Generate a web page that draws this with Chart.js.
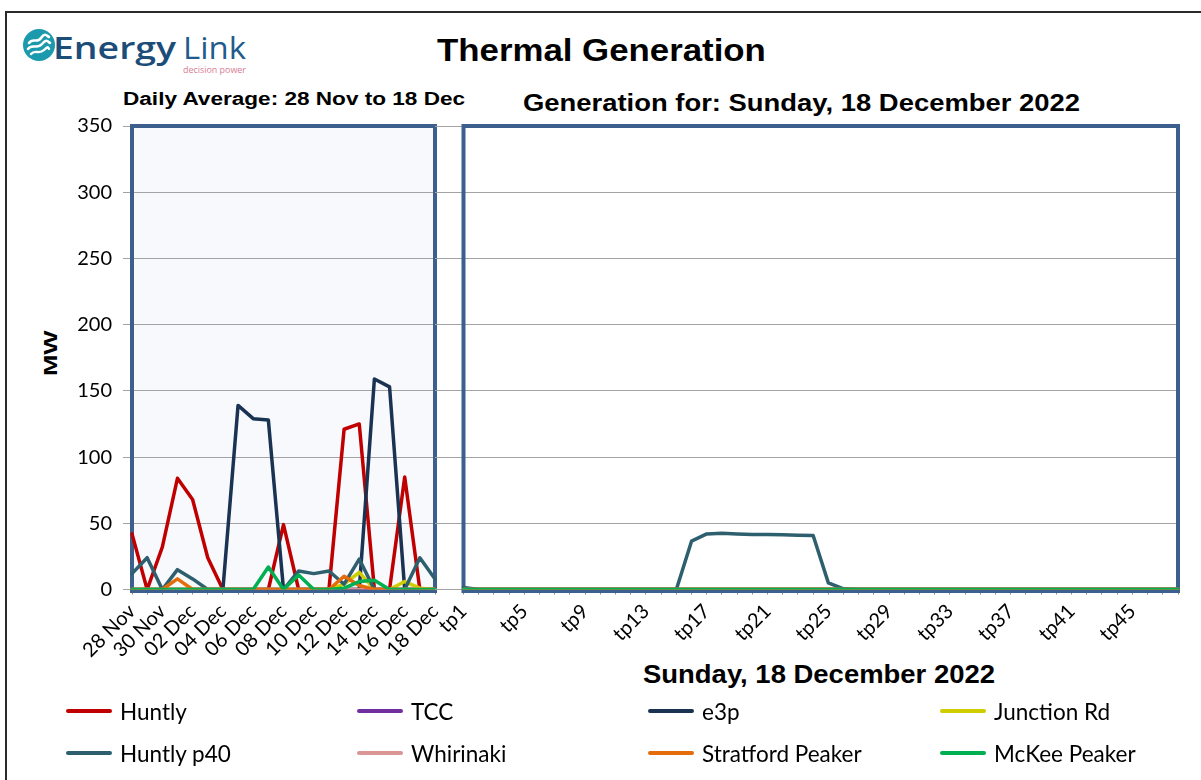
<!DOCTYPE html>
<html>
<head>
<meta charset="utf-8">
<script src="https://cdn.jsdelivr.net/npm/chart.js@4.4.1/dist/chart.umd.min.js"></script>
<style>
  body { margin: 0; width: 1201px; height: 780px; overflow: hidden; background: #fff; position: relative; }
  canvas { position: absolute; left: 0; top: 0; }
  .frame { position: absolute; left: 5px; top: 11px; width: 1300px; height: 900px; border: 2px solid #2a2a2a; }
  .txt { position: absolute; white-space: nowrap; font-family: "Liberation Sans", Arial, sans-serif; font-weight: bold; color: #000; transform-origin: 0 0; }
  .legend-item { position: absolute; display: flex; align-items: center; height: 26px; font-family: Lato, "Open Sans", sans-serif; font-size: 22.5px; color: #000; }
  .legend-item span.swatch { display: inline-block; width: 46px; height: 4px; border-radius: 2px; margin-right: 8px; }
  .logo { position: absolute; left: 22px; top: 26px; }
</style>
</head>
<body>
<div class="frame"></div>

<div class="logo">
  <svg width="34" height="34" viewBox="0 0 34 34" style="position:absolute;left:0;top:2px">
    <circle cx="17" cy="17" r="16" fill="#1c9aad"/>
    <path d="M7 15 C11 9, 15 16, 19 10 S 25 8, 27 9" stroke="#fff" stroke-width="2.6" fill="none" stroke-linecap="round"/>
    <path d="M6 21 C10 15, 15 22, 20 16 S 26 14, 28 15" stroke="#fff" stroke-width="2.6" fill="none" stroke-linecap="round"/>
    <path d="M9 26 C13 21, 17 27, 22 22 S 26 20, 27 21" stroke="#fff" stroke-width="2.4" fill="none" stroke-linecap="round"/>
  </svg>
  <div class="txt" data-w="123" style="left:31px;top:0px;font-family:'Open Sans',sans-serif;font-weight:600;font-size:31px;color:#1c4d78">Energy</div>
  <div class="txt" data-w="63" style="left:161px;top:0px;font-family:'Open Sans',sans-serif;font-weight:400;font-size:31px;color:#1f5b8c">Link</div>
  <div class="txt" data-w="63" style="left:161px;top:37px;font-family:'Open Sans',sans-serif;font-weight:400;font-size:9px;color:#d87c93">decision power</div>
</div>

<div class="txt" data-w="329" style="left:437px;top:33px;font-size:31px">Thermal Generation</div>
<div class="txt" data-w="342" style="left:123px;top:89px;font-size:18px">Daily Average: 28 Nov to 18 Dec</div>
<div class="txt" data-w="557" style="left:523px;top:89px;font-size:24px">Generation for: Sunday, 18 December 2022</div>
<div class="txt" data-w="352" style="left:643px;top:660px;font-size:25px">Sunday, 18 December 2022</div>
<div class="txt" style="left:40px;top:376px;font-size:19px;transform:rotate(-90deg) scaleX(1.35)">MW</div>

<canvas id="dailyChart" width="1201" height="780"></canvas>
<canvas id="tpChart" width="1201" height="780"></canvas>
<div id="legend"></div>

<script>
const dayLabels = ['28 Nov', '29 Nov', '30 Nov', '01 Dec', '02 Dec', '03 Dec', '04 Dec', '05 Dec', '06 Dec', '07 Dec', '08 Dec',
    '09 Dec', '10 Dec', '11 Dec', '12 Dec', '13 Dec', '14 Dec', '15 Dec', '16 Dec', '17 Dec', '18 Dec'];

const tpLabels = ['tp1', 'tp2', 'tp3', 'tp4', 'tp5', 'tp6', 'tp7', 'tp8', 'tp9', 'tp10', 'tp11', 'tp12',
    'tp13', 'tp14', 'tp15', 'tp16', 'tp17', 'tp18', 'tp19', 'tp20', 'tp21', 'tp22', 'tp23', 'tp24',
    'tp25', 'tp26', 'tp27', 'tp28', 'tp29', 'tp30', 'tp31', 'tp32', 'tp33', 'tp34', 'tp35', 'tp36',
    'tp37', 'tp38', 'tp39', 'tp40', 'tp41', 'tp42', 'tp43', 'tp44', 'tp45', 'tp46', 'tp47', 'tp48'];

const yTicks = [0, 50, 100, 150, 200, 250, 300, 350];

const seriesNames = ['Huntly', 'TCC', 'e3p', 'Junction Rd', 'Huntly p40', 'Whirinaki', 'Stratford Peaker', 'McKee Peaker'];
const seriesColors = ['#c00000', '#7030a0', '#1b3352', '#cfcc00', '#2e5f6e', '#d99694', '#e46c0a', '#00b050'];

// daily averages, 28 Nov .. 18 Dec
const dailyHuntly     = [42, 0, 32, 84, 68, 24, 0, 0, 0, 0, 49, 0, 0, 0, 121, 125, 0, 0, 85, 0, 0];
const dailyTCC        = [0, 0, 0, 0, 0, 0, 0, 0, 0, 0, 0, 0, 0, 0, 0, 0, 0, 0, 0, 0, 0];
const dailyE3p        = [0, 0, 0, 0, 0, 0, 0, 139, 129, 128, 0, 0, 0, 0, 0, 0, 159, 153, 0, 0, 0];
const dailyJunctionRd = [0, 0, 0, 0, 0, 0, 0, 0, 0, 0, 0, 0, 0, 0, 4, 13, 0, 0, 6, 1, 0];
const dailyHuntlyP40  = [12, 24, 0, 15, 8, 0, 0, 0, 0, 0, 0, 14, 12, 14, 4, 23, 0, 0, 0, 24, 8];
const dailyWhirinaki  = [0, 0, 0, 0, 0, 0, 0, 0, 0, 0, 0, 0, 0, 0, 0, 0, 0, 0, 0, 0, 0];
const dailyStratford  = [0, 0, 0, 8, 0, 0, 0, 0, 0, 0, 0, 0, 0, 0, 10, 3, 0, 0, 0, 0, 0];
const dailyMcKee      = [0, 0, 0, 0, 0, 0, 0, 0, 0, 17, 0, 11, 0, 0, 1, 6, 7, 0, 0, 0, 0];

// trading periods, Sunday 18 December 2022
const tpHuntly     = [0,0,0,0,0,0,0,0,0,0,0,0, 0,0,0,0,0,0,0,0,0,0,0,0, 0,0,0,0,0,0,0,0,0,0,0,0, 0,0,0,0,0,0,0,0,0,0,0,0];
const tpTCC        = [0,0,0,0,0,0,0,0,0,0,0,0, 0,0,0,0,0,0,0,0,0,0,0,0, 0,0,0,0,0,0,0,0,0,0,0,0, 0,0,0,0,0,0,0,0,0,0,0,0];
const tpE3p        = [0,0,0,0,0,0,0,0,0,0,0,0, 0,0,0,0,0,0,0,0,0,0,0,0, 0,0,0,0,0,0,0,0,0,0,0,0, 0,0,0,0,0,0,0,0,0,0,0,0];
const tpJunctionRd = [0,0,0,0,0,0,0,0,0,0,0,0, 0,0,0,0,0,0,0,0,0,0,0,0, 0,0,0,0,0,0,0,0,0,0,0,0, 0,0,0,0,0,0,0,0,0,0,0,0];
const tpHuntlyP40  = [1.5,0,0,0,0,0,0,0,0,0,0,0, 0,0,0,36.5,42,42.5,42,41.5,41.5,41.3,41,40.8, 5,0.5,0,0,0,0,0,0,0,0,0,0, 0,0,0,0,0,0,0,0,0,0,0,0];
const tpWhirinaki  = [0,0,0,0,0,0,0,0,0,0,0,0, 0,0,0,0,0,0,0,0,0,0,0,0, 0,0,0,0,0,0,0,0,0,0,0,0, 0,0,0,0,0,0,0,0,0,0,0,0];
const tpStratford  = [0,0,0,0,0,0,0,0,0,0,0,0, 0,0,0,0,0,0,0,0,0,0,0,0, 0,0,0,0,0,0,0,0,0,0,0,0, 0,0,0,0,0,0,0,0,0,0,0,0];
const tpMcKee      = [0,0,0,0,0,0,0,0,0,0,0,0, 0,0,0,0,0,0,0,0,0,0,0,0, 0,0,0,0,0,0,0,0,0,0,0,0, 0,0,0,0,0,0,0,0,0,0,0,0];

const dailySeries = [dailyHuntly, dailyTCC, dailyE3p, dailyJunctionRd, dailyHuntlyP40, dailyWhirinaki, dailyStratford, dailyMcKee];
const tpSeries = [tpHuntly, tpTCC, tpE3p, tpJunctionRd, tpHuntlyP40, tpWhirinaki, tpStratford, tpMcKee];

function montarDatasets(listaSeries) {
    return listaSeries.map((valores, i) => ({
        label: seriesNames[i],
        data: valores,
        borderColor: seriesColors[i],
        backgroundColor: seriesColors[i],
        borderWidth: 3.5,
        borderCapStyle: 'round',
        borderJoinStyle: 'round',
        pointRadius: 0,
        tension: 0,
        order: seriesNames.length - i
    }));
}

// frame + fill of the plot area
const molduraPainel = {
    id: 'molduraPainel',
    beforeDraw(chart, args, opts) {
        const a = chart.chartArea;
        if (opts.background) {
            chart.ctx.save();
            chart.ctx.fillStyle = opts.background;
            chart.ctx.fillRect(a.left, a.top, a.right - a.left, a.bottom - a.top);
            chart.ctx.restore();
        }
    },
    beforeDatasetsDraw(chart) {
        const a = chart.chartArea;
        const ctx = chart.ctx;
        ctx.save();
        ctx.strokeStyle = '#3d5f8e';
        ctx.lineWidth = 4;
        ctx.strokeRect(a.left, a.top, a.right - a.left, a.bottom - a.top + 1.5);
        ctx.restore();
    }
};

const fonteTicks = { family: 'Lato, "Open Sans", sans-serif', size: 20 };

function eixoY(mostrarLabels, largura, tamanhoTick) {
    return {
        min: 0,
        max: 350,
        afterBuildTicks: (scale) => { scale.ticks = yTicks.map(v => ({ value: v })); },
        afterFit: (scale) => { scale.width = largura; },
        border: { display: false },
        grid: { color: '#a3a3a3', lineWidth: 1, tickLength: tamanhoTick, drawTicks: true },
        ticks: { display: mostrarLabels, color: '#000', font: fonteTicks, padding: 11 }
    };
}

function eixoX(labels, passo) {
    return {
        type: 'category',
        offset: false,
        afterFit: (scale) => { scale.height = 100; },
        border: { display: false },
        grid: { drawOnChartArea: false, color: '#8a8a8a', tickLength: 5 },
        ticks: {
            autoSkip: false,
            minRotation: 45,
            maxRotation: 45,
            color: '#000',
            font: fonteTicks,
            padding: 5,
            callback: (val, i) => (i % passo === 0 ? labels[i] : '')
        }
    };
}

function opcoesBase(padding, eixoVertical, eixoHorizontal, fundo) {
    return {
        responsive: false,
        animation: false,
        layout: { padding },
        plugins: {
            legend: { display: false },
            tooltip: { enabled: false },
            molduraPainel: { background: fundo }
        },
        scales: { x: eixoHorizontal, y: eixoVertical }
    };
}

new Chart(document.getElementById('dailyChart').getContext('2d'), {
    type: 'line',
    data: { labels: dayLabels, datasets: montarDatasets(dailySeries) },
    options: opcoesBase({ left: 0, top: 126, right: 1201 - 435, bottom: 780 - 589.5 - 100 },
        eixoY(true, 132, 9), eixoX(dayLabels, 2), '#f7f9fd'),
    plugins: [molduraPainel]
});

new Chart(document.getElementById('tpChart').getContext('2d'), {
    type: 'line',
    data: { labels: tpLabels, datasets: montarDatasets(tpSeries) },
    options: opcoesBase({ left: 0, top: 126, right: 1201 - 1178, bottom: 780 - 589.5 - 100 },
        eixoY(false, 463.5, 28.5), eixoX(tpLabels, 4), null),
    plugins: [molduraPainel]
});

// legend, 4 columns x 2 rows
const colunasLegenda = [66, 357, 648, 940];
const linhasLegenda = [698, 740];
const legenda = document.getElementById('legend');
seriesNames.forEach((nome, i) => {
    const item = document.createElement('div');
    item.className = 'legend-item';
    item.style.left = colunasLegenda[i % 4] + 'px';
    item.style.top = linhasLegenda[Math.floor(i / 4)] + 'px';
    item.innerHTML = '<span class="swatch" style="background:' + seriesColors[i] + '"></span>' + nome;
    legenda.appendChild(item);
});

// stretch titles to the measured widths
document.querySelectorAll('.txt[data-w]').forEach((el) => {
    const alvo = Number(el.dataset.w);
    const atual = el.getBoundingClientRect().width;
    if (atual > 0) {
        el.style.transform = 'scaleX(' + (alvo / atual).toFixed(3) + ')';
    }
});
</script>
</body>
</html>
